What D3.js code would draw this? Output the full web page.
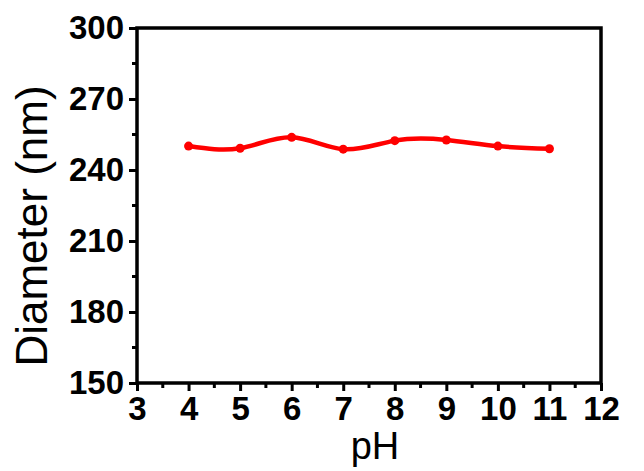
<!DOCTYPE html>
<head>
<meta charset="utf-8">
<script src="https://cdn.jsdelivr.net/npm/d3@7"></script>
<style>
  body { margin: 0; background: #fff; }
  text { font-family: "Liberation Sans", Arial, sans-serif; }
</style>
</head>
<body>
<svg width="644" height="471"></svg>
<script>
var phValues = [4, 5, 6, 7, 8, 9, 10, 11]
var diameters = [250.1, 249.2, 253.8, 248.8, 252.4, 252.7, 250.1, 249.0]
var xTicks = [3, 4, 5, 6, 7, 8, 9, 10, 11, 12]
var yTicks = [150, 180, 210, 240, 270, 300]

var svg = d3.select('svg')
var x = d3.scaleLinear().domain([3, 12]).range([137, 601])
var y = d3.scaleLinear().domain([150, 300]).range([383, 28])

// minor ticks
var xMinor = d3.range(3.5, 12, 1)
var yMinor = d3.range(165, 300, 30)

var xAxis = svg.append('g').attr('transform', 'translate(0,' + y(150) + ')')
xAxis.call(d3.axisBottom(x).tickValues(xTicks).tickSize(8).tickPadding(6).tickFormat(d3.format('d')))
svg.append('g').selectAll('line').data(xMinor).enter().append('line')
  .attr('x1', function (d) { return x(d) }).attr('x2', function (d) { return x(d) })
  .attr('y1', y(150)).attr('y2', y(150) + 5)
  .attr('stroke', '#000').attr('stroke-width', 3)

var yAxis = svg.append('g').attr('transform', 'translate(' + x(3) + ',0)')
yAxis.call(d3.axisLeft(y).tickValues(yTicks).tickSize(8).tickPadding(5))
svg.append('g').selectAll('line').data(yMinor).enter().append('line')
  .attr('y1', function (d) { return y(d) }).attr('y2', function (d) { return y(d) })
  .attr('x1', x(3)).attr('x2', x(3) - 5)
  .attr('stroke', '#000').attr('stroke-width', 3)

svg.selectAll('.domain').remove()
svg.selectAll('.tick line').attr('stroke', '#000').attr('stroke-width', 3)
svg.selectAll('.tick text').attr('fill', '#000')
  .style('font-size', '33px').style('font-weight', 'bold')

// frame
svg.append('rect')
  .attr('x', x(3)).attr('y', y(300))
  .attr('width', x(12) - x(3)).attr('height', y(150) - y(300))
  .attr('fill', 'none').attr('stroke', '#000').attr('stroke-width', 3.5)

var pts = phValues.map(function (p, i) { return [x(p), y(diameters[i])] })
svg.append('path')
  .attr('d', d3.line().curve(d3.curveNatural)(pts))
  .attr('fill', 'none').attr('stroke', '#ff0000').attr('stroke-width', 4.5)
svg.selectAll('circle.pt').data(pts).enter().append('circle')
  .attr('class', 'pt')
  .attr('cx', function (d) { return d[0] }).attr('cy', function (d) { return d[1] })
  .attr('r', 4.5).attr('fill', '#ff0000')

svg.append('text')
  .attr('x', 375).attr('y', 459)
  .attr('text-anchor', 'middle')
  .style('font-size', '38px')
  .text('pH')

svg.append('text')
  .attr('transform', 'translate(47,' + 226 + ') rotate(-90)')
  .attr('text-anchor', 'middle')
  .style('font-size', '44px')
  .text('Diameter (nm)')
</script>
</body>
